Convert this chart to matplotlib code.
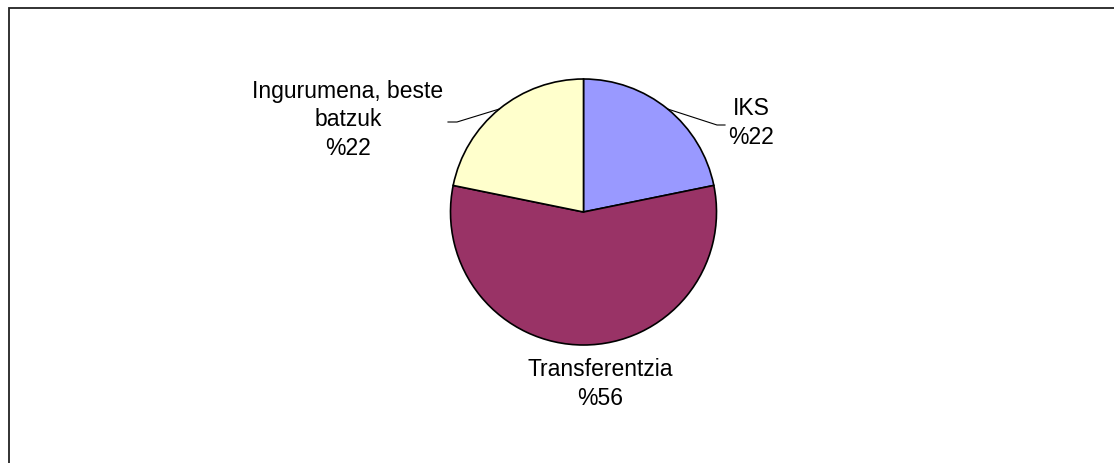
import numpy as np
import matplotlib
matplotlib.use("Agg")
import matplotlib.pyplot as plt
from matplotlib.patches import Rectangle

categories = ["IKS", "Transferentzia", "Ingurumena, beste\nbatzuk"]
values = [21.8, 56.4, 21.8]
colors = ["#9999FF", "#993366", "#FFFFCC"]

W, H = 1114, 463
fig = plt.figure(figsize=(W / 100, H / 100), dpi=100)
fig.patch.set_facecolor("white")
ax = fig.add_axes([0, 0, 1, 1])

cx, cy, R = 583.5, H - 212, 133
wedges, _ = ax.pie(values, colors=colors, startangle=90, counterclock=False,
                   center=(cx, cy), radius=R, frame=True,
                   wedgeprops=dict(edgecolor="black", linewidth=1.2))
ax.set_xlim(0, W)
ax.set_ylim(0, H)
ax.axis("off")

font = dict(family=["Liberation Sans", "DejaVu Sans"], fontsize=16.5)
labels = [f"{c}\n%{round(v)}" for c, v in zip(categories, values)]

# label positions (pixel coords from top) and leader elbows
label_pos = [(751, 123), (600, 384), (348, 120)]
elbows = [((717, 125), (725, 125)), None, ((457, 122), (448, 122))]

for w, lab, (lx, ly), el in zip(wedges, labels, label_pos, elbows):
    ax.text(lx, H - ly, lab, ha="center", va="center", linespacing=1.32,
            color="black", **font)
    if el is not None:
        ang = np.deg2rad((w.theta1 + w.theta2) / 2)
        sx, sy = cx + R * np.cos(ang), cy + R * np.sin(ang)
        xs = [sx, el[0][0], el[1][0]]
        ys = [sy, H - el[0][1], H - el[1][1]]
        ax.plot(xs, ys, color="black", linewidth=0.8)

frame = Rectangle((8.5 / W, -0.1), 2, (H - 7.5) / H + 0.1,
                  transform=fig.transFigure,
                  fill=False, edgecolor="#222222", linewidth=1.3)
fig.patches.append(frame)

fig.savefig("out.png", dpi=100, facecolor="white")
